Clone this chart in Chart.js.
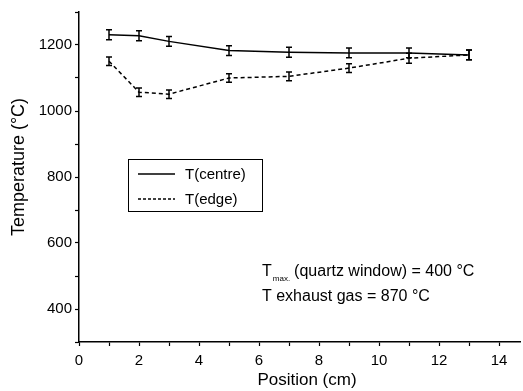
<!DOCTYPE html>
<html lang="en">
<head>
    <meta charset="UTF-8" />
    <title>Temperature vs Position</title>
    <script src="https://cdn.jsdelivr.net/npm/chart.js"></script>
    <style>
        body { margin: 0; background: #fff; }
        #wrap { width: 523px; height: 391px; }
    </style>
</head>
<body>
    <div id="wrap"><canvas id="chart" width="523" height="391"></canvas></div>
    <script>
        // data
        const positions = [1, 2, 3, 5, 7, 9, 11, 13];
        const tCentre = [1231, 1228, 1211, 1183, 1178, 1176, 1176, 1170];
        const tEdge = [1151, 1057, 1051, 1100, 1105, 1130, 1160, 1170];
        const errCentre = [15, 15, 15, 15, 15, 15, 15, 15];
        const errEdge = [13, 13, 13, 13, 13, 13, 15, 15];
        const xTickLabels = [0, 2, 4, 6, 8, 10, 12, 14];
        const yTickLabels = [400, 600, 800, 1000, 1200];

        const FONT = "'Liberation Sans', Arial, sans-serif";

        // error bars drawn through the y scale
        const errorBars = {
            id: 'errorBars',
            afterDatasetsDraw(chart) {
                const ctx = chart.ctx;
                const ys = chart.scales.y;
                chart.data.datasets.forEach((ds, di) => {
                    const meta = chart.getDatasetMeta(di);
                    meta.data.forEach((pt, i) => {
                        const v = ds.data[i].y, e = ds.errors[i];
                        const top = ys.getPixelForValue(v + e);
                        const bot = ys.getPixelForValue(v - e);
                        ctx.save();
                        ctx.strokeStyle = '#000';
                        ctx.lineWidth = 1.5;
                        ctx.beginPath();
                        ctx.moveTo(pt.x, top); ctx.lineTo(pt.x, bot);
                        ctx.moveTo(pt.x - 3, top); ctx.lineTo(pt.x + 3, top);
                        ctx.moveTo(pt.x - 3, bot); ctx.lineTo(pt.x + 3, bot);
                        ctx.stroke();
                        ctx.restore();
                    });
                });
            }
        };

        // axis titles, boxed legend + annotation text
        const extras = {
            id: 'extras',
            afterDraw(chart) {
                const ctx = chart.ctx;
                ctx.save();
                ctx.fillStyle = '#000';

                // axis titles
                ctx.font = '17px ' + FONT;
                ctx.textAlign = 'center';
                ctx.textBaseline = 'middle';
                ctx.fillText('Position (cm)', 307, 380);
                ctx.save();
                ctx.translate(19, 167);
                ctx.rotate(-Math.PI / 2);
                ctx.font = '18px ' + FONT;
                ctx.fillText('Temperature (°C)', 0, 0);
                ctx.restore();
                ctx.textAlign = 'left';

                // legend
                ctx.strokeStyle = '#000';
                ctx.lineWidth = 1;
                ctx.strokeRect(128.5, 159.5, 134, 52);
                ctx.lineWidth = 1.5;
                ctx.beginPath();
                ctx.moveTo(138, 174); ctx.lineTo(175, 174);
                ctx.stroke();
                ctx.setLineDash([3, 2]);
                ctx.beginPath();
                ctx.moveTo(138, 199); ctx.lineTo(175, 199);
                ctx.stroke();
                ctx.setLineDash([]);
                ctx.font = '15px ' + FONT;
                ctx.fillText('T(centre)', 185, 175);
                ctx.fillText('T(edge)', 185, 200);

                // annotation
                ctx.textBaseline = 'alphabetic';
                ctx.font = '16px ' + FONT;
                ctx.fillText('T', 262, 276);
                let x = 262 + ctx.measureText('T').width + 1;
                ctx.font = '8px ' + FONT;
                ctx.fillText('max.', x, 281);
                x += ctx.measureText('max.').width + 4;
                ctx.font = '16px ' + FONT;
                ctx.fillText('(quartz window) = 400 °C', x, 276);
                ctx.fillText('T exhaust gas = 870 °C', 262, 301);
                ctx.restore();
            }
        };

        new Chart(document.getElementById('chart'), {
            type: 'line',
            data: {
                datasets: [{
                    label: 'T(centre)',
                    data: positions.map((p, i) => ({ x: p, y: tCentre[i] })),
                    errors: errCentre,
                    borderColor: '#000',
                    borderWidth: 1.5,
                    pointRadius: 0,
                    tension: 0,
                    fill: false
                }, {
                    label: 'T(edge)',
                    data: positions.map((p, i) => ({ x: p, y: tEdge[i] })),
                    errors: errEdge,
                    borderColor: '#000',
                    borderWidth: 1.5,
                    borderDash: [4, 3],
                    pointRadius: 0,
                    tension: 0,
                    fill: false
                }]
            },
            options: {
                responsive: false,
                animation: false,
                layout: { padding: { top: 12, right: 3, left: 0, bottom: 0 } },
                plugins: { legend: { display: false }, tooltip: { enabled: false } },
                scales: {
                    x: {
                        type: 'linear',
                        min: 0,
                        max: 14.7,
                        afterBuildTicks: (s) => {
                            s.ticks = [];
                            for (let v = 0; v <= 14; v++) s.ticks.push({ value: v });
                        },
                        afterFit: (s) => { s.height = 49; },
                        border: { color: '#000', width: 1.5 },
                        grid: { drawOnChartArea: false, tickLength: 4, color: '#000', tickWidth: 1.2 },
                        ticks: {
                            color: '#000',
                            font: { family: FONT, size: 15 },
                            padding: 6,
                            maxRotation: 0,
                            autoSkip: false,
                            callback: (v) => xTickLabels.includes(v) ? String(v) : ''
                        }
                    },
                    y: {
                        min: 300,
                        max: 1300,
                        afterBuildTicks: (s) => {
                            s.ticks = [];
                            for (let v = 300; v <= 1300; v += 100) s.ticks.push({ value: v });
                        },
                        afterFit: (s) => { s.width = 79; },
                        border: { color: '#000', width: 1.5 },
                        grid: { drawOnChartArea: false, tickLength: 4, color: '#000', tickWidth: 1.2 },
                        ticks: {
                            color: '#000',
                            font: { family: FONT, size: 15 },
                            padding: 3,
                            autoSkip: false,
                            callback: (v) => yTickLabels.includes(v) ? String(v) : ''
                        }
                    }
                }
            },
            plugins: [errorBars, extras]
        });
    </script>
</body>
</html>
